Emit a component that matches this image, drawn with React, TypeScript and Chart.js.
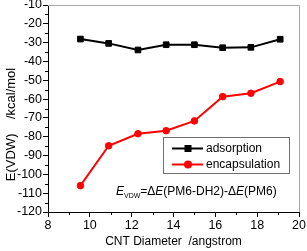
import React, { useEffect, useRef } from 'react';
import { Chart, registerables } from 'chart.js';

Chart.register(...registerables);

const diameters = [9.55, 10.9, 12.3, 13.65, 15.0, 16.35, 17.7, 19.1];
const adsorption = [-28.1, -30.4, -33.9, -31.1, -31.1, -32.7, -32.5, -28.2];
const encapsulation = [-106.0, -84.8, -78.4, -76.8, -71.6, -58.7, -56.9, -50.7];
const seriesNames = ['adsorption', 'encapsulation'];
const xMinorTicks = [9, 11, 13, 15, 17, 19];
const yMinorTicks = [-15, -25, -35, -45, -55, -65, -75, -85, -95, -105, -115];
const xTitle = 'CNT Diameter  /angstrom';
const yTitle = 'E(VDW)    /kcal/mol';

const FONT = "'Liberation Sans', Arial, sans-serif";

const decorPlugin = {
  id: 'decor',
  afterDraw(chart: any) {
    const ctx = chart.ctx as CanvasRenderingContext2D;
    const { left, right, top, bottom } = chart.chartArea;
    const xs = chart.scales.x;
    const ys = chart.scales.y;
    ctx.save();
    // frame top/right
    ctx.strokeStyle = '#a8a8a8';
    ctx.lineWidth = 1;
    ctx.beginPath();
    ctx.moveTo(left, top + 0.5);
    ctx.lineTo(right + 0.5, top + 0.5);
    ctx.lineTo(right + 0.5, bottom);
    ctx.stroke();
    // minor ticks
    ctx.strokeStyle = '#000';
    ctx.beginPath();
    xMinorTicks.forEach((v) => {
      const px = Math.round(xs.getPixelForValue(v)) + 0.5;
      ctx.moveTo(px, bottom);
      ctx.lineTo(px, bottom + 3);
    });
    yMinorTicks.forEach((v) => {
      const py = Math.round(ys.getPixelForValue(v)) + 0.5;
      ctx.moveTo(left, py);
      ctx.lineTo(left - 3, py);
    });
    ctx.stroke();

    // axis titles
    ctx.fillStyle = '#000';
    ctx.font = `12px ${FONT}`;
    ctx.textAlign = 'center';
    ctx.textBaseline = 'middle';
    ctx.fillText(xTitle, (left + right) / 2, 242);
    ctx.save();
    ctx.translate(11, 124.5);
    ctx.rotate(-Math.PI / 2);
    ctx.font = `13px ${FONT}`;
    ctx.fillText(yTitle, 0, 0);
    ctx.restore();

    // legend
    const lx0 = 163, ly0 = 137, lx1 = 289, ly1 = 173;
    ctx.strokeStyle = '#707070';
    ctx.lineWidth = 1;
    ctx.strokeRect(lx0 + 0.5, ly0 + 0.5, lx1 - lx0, ly1 - ly0);
    const rows = [148.5, 164.5];
    chart.data.datasets.forEach((ds: any, i: number) => {
      const y = rows[i];
      ctx.strokeStyle = ds.borderColor;
      ctx.lineWidth = 2;
      ctx.beginPath();
      ctx.moveTo(172, y);
      ctx.lineTo(203, y);
      ctx.stroke();
      ctx.fillStyle = ds.pointBackgroundColor;
      if (ds.pointStyle === 'rect') {
        ctx.fillRect(184.5, y - 3.5, 7, 7);
      } else {
        ctx.beginPath();
        ctx.arc(188, y, 4, 0, Math.PI * 2);
        ctx.fill();
      }
      ctx.fillStyle = '#000';
      ctx.font = `12px ${FONT}`;
      ctx.textAlign = 'left';
      ctx.textBaseline = 'middle';
      ctx.fillText(seriesNames[i], 206, y);
    });

    // annotation
    const parts: [string, string, number][] = [
      ['E', 'italic 12px', 0],
      ['VDW', '7px', 3],
      ['=Δ', '12px', 0],
      ['E', 'italic 12px', 0],
      ['(PM6-DH2)-Δ', '12px', 0],
      ['E', 'italic 12px', 0],
      ['(PM6)', '12px', 0],
    ];
    let x = 116;
    const base = 194.5;
    ctx.textAlign = 'left';
    ctx.textBaseline = 'alphabetic';
    ctx.fillStyle = '#000';
    parts.forEach(([t, f, dy]) => {
      ctx.font = `${f} ${FONT}`;
      ctx.fillText(t, x, base + dy);
      x += ctx.measureText(t).width;
    });
    ctx.restore();
  },
};

export default function App() {
  const ref = useRef<HTMLCanvasElement | null>(null);
  useEffect(() => {
    document.body.style.margin = '0';
    if (!ref.current) return;
    const chart = new Chart(ref.current, {
      type: 'line',
      data: {
        datasets: [
          {
            label: seriesNames[0],
            data: diameters.map((d, i) => ({ x: d, y: adsorption[i] })),
            borderColor: '#000000',
            backgroundColor: '#000000',
            pointBackgroundColor: '#000000',
            pointBorderColor: '#000000',
            pointStyle: 'rect',
            pointRadius: 4,
            pointBorderWidth: 1,
            borderWidth: 2,
            tension: 0,
          },
          {
            label: seriesNames[1],
            data: diameters.map((d, i) => ({ x: d, y: encapsulation[i] })),
            borderColor: '#ff0000',
            backgroundColor: '#ff0000',
            pointBackgroundColor: '#ff0000',
            pointBorderColor: '#ff0000',
            pointStyle: 'circle',
            pointRadius: 3.3,
            pointBorderWidth: 1,
            borderWidth: 2,
            tension: 0,
          },
        ],
      },
      options: {
        responsive: false,
        animation: false,
        devicePixelRatio: 1,
        layout: { padding: { top: 5, right: 8, left: 0, bottom: 0 } },
        plugins: { legend: { display: false }, tooltip: { enabled: false } },
        scales: {
          x: {
            type: 'linear',
            min: 8,
            max: 20,
            border: { color: '#000', width: 1 },
            grid: { drawOnChartArea: false, tickLength: 5, tickColor: '#000' },
            ticks: { stepSize: 2, color: '#000', padding: 1, font: { family: FONT, size: 12.5 } },
            afterFit: (s: any) => {
              s.height = 39;
              s.paddingLeft = 0;
              s.paddingRight = 0;
            },
          },
          y: {
            type: 'linear',
            min: -120,
            max: -10,
            border: { color: '#000', width: 1 },
            grid: { drawOnChartArea: false, tickLength: 5, tickColor: '#000' },
            ticks: { stepSize: 10, color: '#000', padding: 1, font: { family: FONT, size: 12.5 } },
            afterFit: (s: any) => {
              s.width = 48;
              s.paddingTop = 0;
              s.paddingBottom = 0;
            },
          },
        },
      },
      plugins: [decorPlugin],
    });
    return () => chart.destroy();
  }, []);
  return <canvas ref={ref} width={307} height={251} style={{ display: 'block' }} />;
}
